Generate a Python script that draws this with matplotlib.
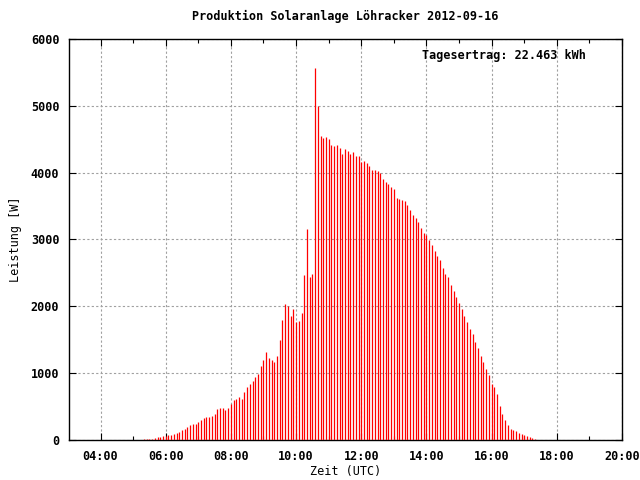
import numpy as np
import matplotlib
matplotlib.use("Agg")
import matplotlib.pyplot as plt
from matplotlib.ticker import FixedLocator, MultipleLocator

# 5-minute power readings [W], starting at 05:20 UTC
start_hour = 5 + 20 / 60
step_min = 5
power = [
    20, 20, 20, 20, 35, 50, 50, 65, 65, 80, 80, 90, 110, 125, 155, 170, 200,
    225, 245, 245, 270, 300, 325, 350, 350, 365,
    395, 465, 485, 485, 450, 485, 545, 605, 620, 650, 620, 725, 800, 845, 890,
    950, 990, 1100, 1200, 1310, 1220, 1200, 1160, 1250, 1490, 1790, 2030, 2000,
    1860, 1965, 1770, 1785, 1900, 2470, 3157, 2440, 2485, 5570, 5000, 4550,
    4520, 4535, 4505, 4415, 4400, 4415, 4370, 4280,
    4355, 4325, 4280, 4310, 4250, 4250, 4160, 4175, 4145, 4100, 4040, 4040,
    4025, 3995, 3905, 3860, 3830, 3785, 3755, 3620,
    3605, 3590, 3575, 3515, 3440, 3365, 3320, 3260, 3170, 3095, 3065, 2990,
    2915, 2830, 2755, 2695, 2575, 2485, 2440, 2320, 2230,
    2140, 2050, 1960, 1855, 1765, 1660, 1585, 1465, 1375, 1255, 1165, 1060,
    970, 840, 795, 690, 510, 390, 300, 225, 165, 150, 135, 105, 90, 75, 60,
    45, 30, 15,
]
hours = start_hour + np.arange(len(power)) * step_min / 60

xticks = [4, 6, 8, 10, 12, 14, 16, 18, 20]
xtick_labels = ["04:00", "06:00", "08:00", "10:00", "12:00", "14:00",
                "16:00", "18:00", "20:00"]
yticks = [0, 1000, 2000, 3000, 4000, 5000, 6000]

title = "Produktion Solaranlage Löhracker 2012-09-16"
yield_text = "Tagesertrag: 22.463 kWh"

plt.rcParams['font.family'] = 'DejaVu Sans Mono'
plt.rcParams['font.weight'] = 'bold'
plt.rcParams['font.size'] = 8.5

fig = plt.figure(figsize=(6.4, 4.8), dpi=100)
ax = fig.add_axes([69 / 640, 40 / 480, 553 / 640, 401 / 480])

# crisp red impulses, snapped to the pixel grid
ax.vlines(hours, 0, power, color='#ff0000', linewidth=0.9,
          snap=True, zorder=3)

ax.set_xlim(3.033, 20)
ax.set_ylim(0, 6000)
ax.xaxis.set_major_locator(FixedLocator(xticks))
ax.set_xticklabels(xtick_labels)
ax.xaxis.set_minor_locator(MultipleLocator(1))
ax.set_yticks(yticks)

ax.grid(True, which='major', color='#a0a0a0', linestyle=(0, (2, 2)),
        linewidth=0.8, zorder=1)
ax.tick_params(which='both', direction='in', top=True, right=True,
               colors='black', pad=7)
ax.tick_params(which='major', length=5, width=0.8)
ax.tick_params(which='minor', length=3, width=0.8)
for spine in ax.spines.values():
    spine.set_linewidth(1.0)
    spine.set_color('black')

ax.set_title(title, fontsize=8.5, fontweight='bold', pad=14)
ax.set_xlabel("Zeit (UTC)", labelpad=2)
ax.set_ylabel("Leistung [W]", labelpad=6)
ax.text(0.935, 0.96, yield_text, transform=ax.transAxes, ha='right',
        va='center', zorder=4)

fig.savefig("out.png", dpi=100)
